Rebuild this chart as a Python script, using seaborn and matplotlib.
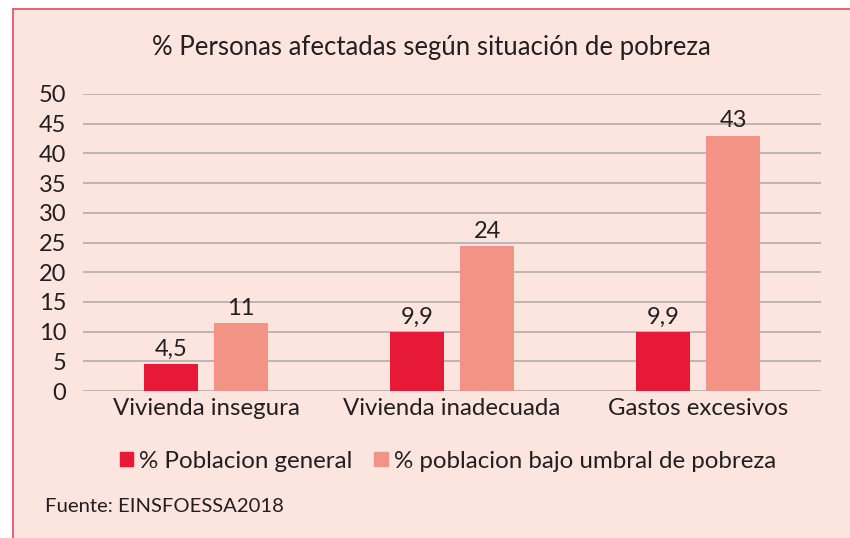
import numpy as np
import pandas as pd
import matplotlib.pyplot as plt
import seaborn as sns
from matplotlib.lines import Line2D

# datos
categorias = ["Vivienda insegura", "Vivienda inadecuada", "Gastos excesivos"]
series = ["% Poblacion general", "% poblacion bajo umbral de pobreza"]
pob_general = [4.5, 9.9, 9.9]
pob_pobreza = [11.4, 24.4, 43.0]
etiq_general = ["4,5", "9,9", "9,9"]
etiq_pobreza = ["11", "24", "43"]

df = pd.DataFrame({
    "categoria": categorias * 2,
    "serie": [series[0]] * 3 + [series[1]] * 3,
    "valor": pob_general + pob_pobreza,
})

fondo = "#FCE4DF"
texto = "#231F20"
colores = ["#E61937", "#F29386"]

sns.set_theme(style="white")
plt.rcParams["font.family"] = ["Lato", "DejaVu Sans"]

fig = plt.figure(figsize=(8.5, 5.38), dpi=100, facecolor=fondo)
ax = fig.add_axes([83 / 850, 1 - 391 / 538, 738 / 850, 297 / 538])
ax.set_facecolor(fondo)

sns.barplot(data=df, x="categoria", y="valor", hue="serie", order=categorias,
            hue_order=series, palette=colores, width=0.573, gap=0.24,
            saturation=1, linewidth=0, ax=ax, legend=False, zorder=3)

ax.set_ylim(0, 50)
ax.set_yticks(np.arange(0, 51, 5))
ax.yaxis.grid(True, color="#B9B0AE", linewidth=1.3, zorder=0)
ax.set_axisbelow(True)
for s in ax.spines.values():
    s.set_visible(False)
ax.tick_params(axis="y", labelsize=17, labelcolor=texto, length=0, pad=12)
ax.tick_params(axis="x", labelsize=17.3, labelcolor=texto, length=0, pad=5)
ax.set_xlabel("")
ax.set_ylabel("")

for cont, etiq in zip(ax.containers, [etiq_general, etiq_pobreza]):
    ax.bar_label(cont, labels=etiq, padding=3, fontsize=17, color=texto)

fig.text(0.508, 1 - 47 / 538, "% Personas afectadas según situación de pobreza",
         ha="center", va="center", fontsize=18.5, color=texto)

handles = [plt.Rectangle((0, 0), 1, 1, color=c) for c in colores]
fig.legend(handles, series, loc="center", bbox_to_anchor=(0.527, 1 - 461 / 538),
           ncol=2, frameon=False, fontsize=17.4, handlelength=0.55, handleheight=0.55,
           handletextpad=0.25, columnspacing=0.9, labelcolor=texto)

fig.text(45 / 850, 1 - 507 / 538, "Fuente: EINSFOESSA2018", ha="left", va="center",
         fontsize=14.6, color=texto)

# marco rojo arriba e izquierda
borde = "#E2485E"
fig.add_artist(Line2D([13 / 850, 1], [1 - 9 / 538, 1 - 9 / 538], color=borde, lw=1.2,
                      transform=fig.transFigure))
fig.add_artist(Line2D([13 / 850, 13 / 850], [0, 1 - 9 / 538], color=borde, lw=1.2,
                      transform=fig.transFigure))
fig.patches.append(plt.Rectangle((0, 1 - 9 / 538), 1, 9 / 538, color="white",
                                 transform=fig.transFigure, zorder=-1))
fig.patches.append(plt.Rectangle((0, 0), 13 / 850, 1, color="white",
                                 transform=fig.transFigure, zorder=-1))

fig.savefig("out.png", dpi=100, facecolor=fondo)
